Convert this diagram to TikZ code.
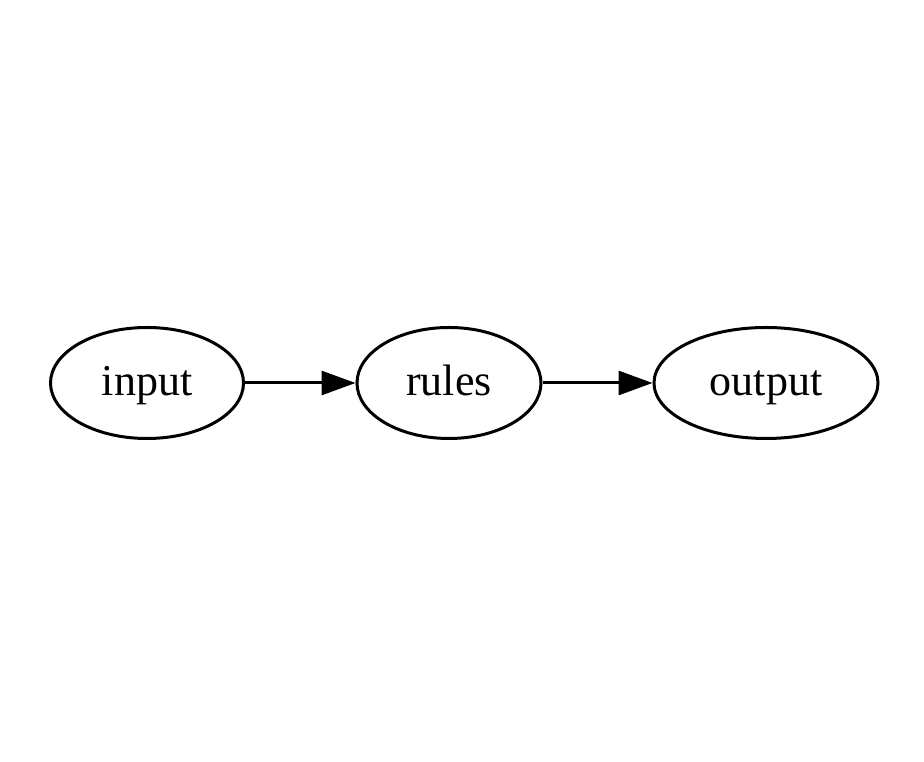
\documentclass[tikz,border=0pt]{standalone}
\usepackage{fontspec}
\setmainfont{Liberation Serif}
\usetikzlibrary{arrows.meta,shapes.geometric}
\begin{document}
\begin{tikzpicture}[x=1pt,y=1pt,
  gvnode/.style={draw=black, line width=3pt, ellipse, inner sep=0pt, text height=30pt, text depth=4pt, font=\fontsize{44}{50}\selectfont},
  gvedge/.style={draw=black, line width=3pt, -{Triangle[length=34pt,width=24pt]}}]
\useasboundingbox (0,0) rectangle (924,762);
\fill[white] (0,0) rectangle (924,762);
\node[gvnode, minimum width=193pt, minimum height=111pt] (input) at (147,379) {input};
\node[gvnode, minimum width=184pt, minimum height=111pt] (rules) at (449,379) {rules};
\node[gvnode, minimum width=224pt, minimum height=111pt] (output) at (766,379) {output};
\draw[gvedge] (input) -- (rules);
\draw[gvedge] (rules) -- (output);
\end{tikzpicture}
\end{document}
